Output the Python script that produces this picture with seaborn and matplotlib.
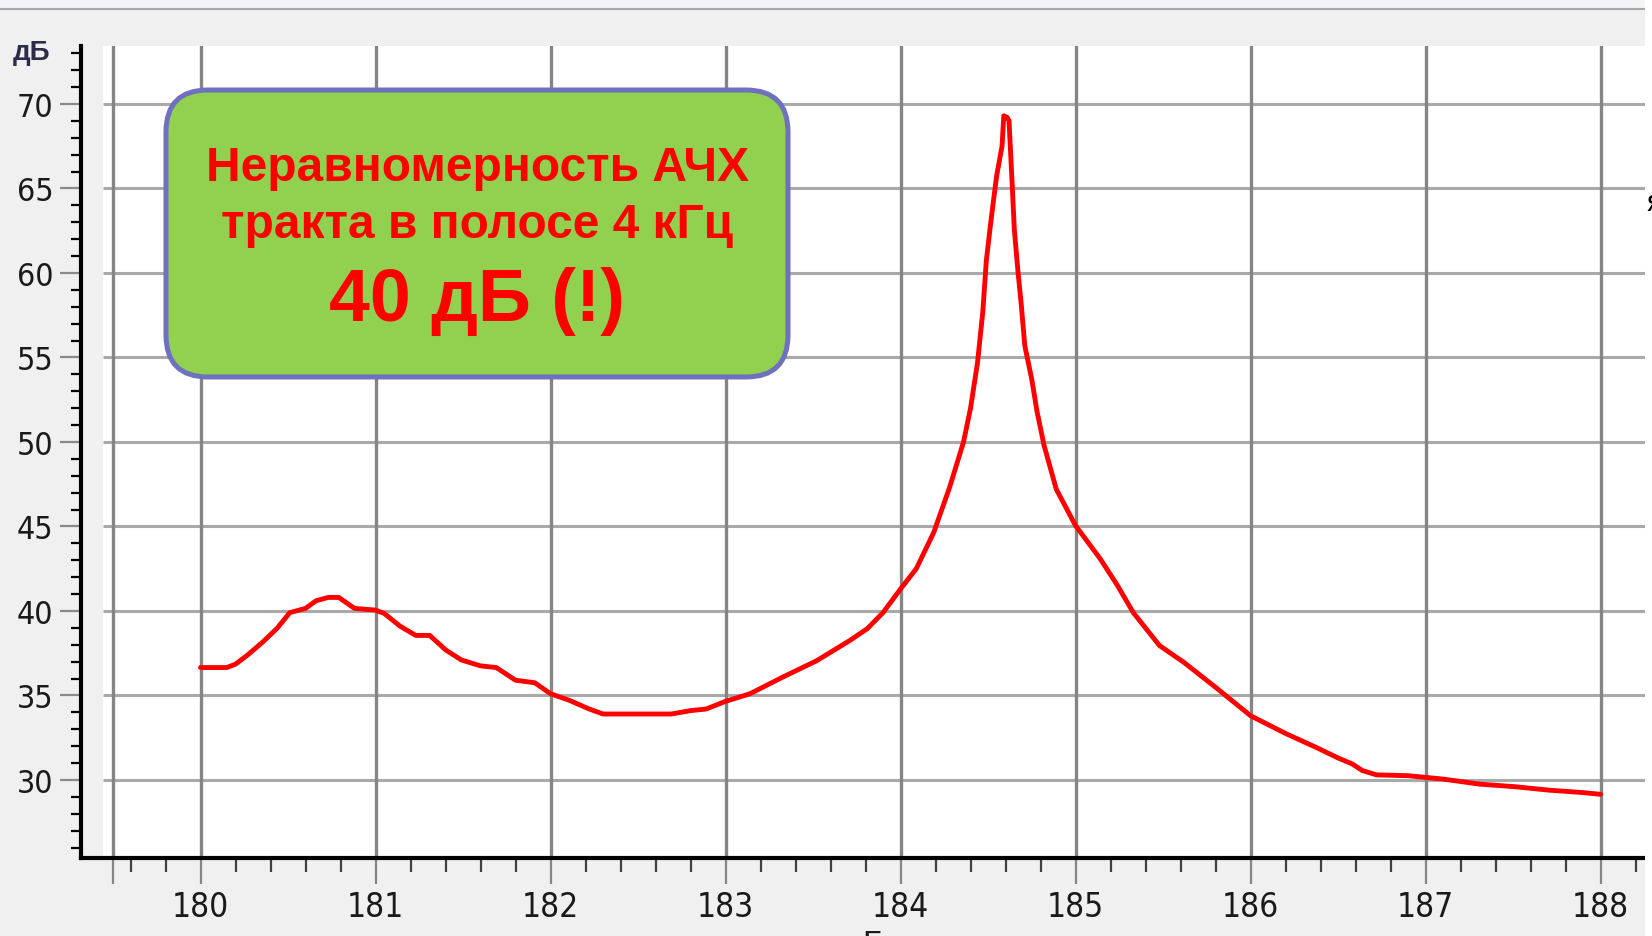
import numpy as np
import pandas as pd
import matplotlib
matplotlib.use("Agg")
import matplotlib.pyplot as plt
import seaborn as sns
from matplotlib import font_manager
from matplotlib.patches import FancyBboxPatch, Rectangle
from matplotlib.transforms import IdentityTransform
from matplotlib.lines import Line2D

# ---- data ----
freq_khz = [180.00, 180.15, 180.20, 180.27, 180.36, 180.44, 180.51, 180.60, 180.66, 180.73,
            180.79, 180.88, 181.00, 181.05, 181.14, 181.23, 181.31, 181.40, 181.49, 181.60,
            181.69, 181.80, 181.91, 182.00, 182.11, 182.22, 182.30, 182.50, 182.69, 182.80,
            182.89, 183.00, 183.14, 183.33, 183.52, 183.71, 183.81, 183.90, 184.00, 184.09,
            184.19, 184.28, 184.36, 184.40, 184.44, 184.47, 184.49, 184.51, 184.53, 184.55,
            184.58, 184.59, 184.61, 184.62, 184.63, 184.64, 184.65, 184.67, 184.69, 184.71,
            184.75, 184.78, 184.82, 184.89, 185.00, 185.14, 185.24, 185.33, 185.48, 185.62,
            185.81, 186.00, 186.20, 186.38, 186.50, 186.58, 186.64, 186.72, 186.90, 187.00,
            187.10, 187.31, 187.51, 187.70, 187.90, 188.00]
level_db = [36.65, 36.65, 36.85, 37.4, 38.2, 39.0, 39.9, 40.15, 40.6, 40.8,
            40.8, 40.15, 40.05, 39.85, 39.1, 38.55, 38.55, 37.7, 37.1, 36.75,
            36.65, 35.9, 35.75, 35.1, 34.7, 34.2, 33.9, 33.9, 33.9, 34.1,
            34.2, 34.65, 35.1, 36.1, 37.05, 38.25, 38.95, 39.9, 41.3, 42.5,
            44.65, 47.3, 50.0, 52.0, 54.7, 57.7, 60.7, 62.5, 64.2, 65.8,
            67.5, 69.3, 69.2, 69.0, 66.9, 64.8, 62.6, 60.2, 58.1, 55.7,
            53.7, 51.8, 49.8, 47.2, 45.05, 43.1, 41.5, 39.9, 37.95, 36.95,
            35.4, 33.8, 32.75, 31.9, 31.3, 30.95, 30.55, 30.3, 30.25, 30.15,
            30.05, 29.75, 29.6, 29.4, 29.25, 29.15]

x_major = [180, 181, 182, 183, 184, 185, 186, 187, 188]
x_labels = ["180", "181", "182", "183", "184", "185", "186", "187", "188"]
x_extra_grid = [179.5]
y_major = [30, 35, 40, 45, 50, 55, 60, 65, 70]
y_labels = ["30", "35", "40", "45", "50", "55", "60", "65", "70"]
y_unit = "дБ"
box_lines = ["Неравномерность АЧХ", "тракта в полосе 4 кГц", "40 дБ (!)"]

df = pd.DataFrame({"freq": freq_khz, "db": level_db})

sns.set_theme(style="white")

# choose a narrow font for the tick labels if one is installed
names = {(f.name, f.stretch) for f in font_manager.fontManager.ttflist}
tick_family, tick_stretch, xsize, ysize = ["Liberation Sans", "DejaVu Sans"], "normal", 24, 23
if any(n == "Liberation Sans Narrow" for n, _ in names):
    tick_family, tick_stretch, xsize, ysize = ["Liberation Sans Narrow", "DejaVu Sans"], "normal", 27, 25
elif ("DejaVu Sans", "condensed") in names or ("DejaVu Sans", "semi-condensed") in names:
    tick_family, tick_stretch, xsize, ysize = ["DejaVu Sans"], "condensed", 24, 23
plt.rcParams["font.family"] = tick_family
plt.rcParams["font.stretch"] = tick_stretch

W, H = 1652, 937
fig = plt.figure(figsize=(W / 100, H / 100), dpi=100, facecolor="#f0f0f0")
ax = fig.add_axes([81 / W, 1 - 859 / H, (1645 - 81) / W, (859 - 47) / H])
ax.set_facecolor("#f0f0f0")

XMIN, XMAX = 179.317, 188.254
YMIN, YMAX = 25.38, 73.43
ax.set_xlim(XMIN, XMAX)
ax.set_ylim(YMIN, YMAX)

# white plot area
ax.axvspan(179.443, XMAX, color="white", zorder=0, lw=0)

# grid
ax.hlines(y_major, 179.443, XMAX, color="#a9a9a9", lw=2.2, zorder=1)
for xv in x_extra_grid + x_major:
    ax.axvline(xv, color="#858585", lw=2.4, zorder=1.5)

sns.lineplot(data=df, x="freq", y="db", color="#ff0000", lw=3.5, ax=ax,
             zorder=3, sort=False)
ax.set_xlabel("")
ax.set_ylabel("")

# ticks
ax.set_xticks(x_extra_grid + x_major)
ax.set_xticklabels([""] + x_labels)
ax.set_xticks(np.round(np.arange(179.6, 188.3, 0.2), 2), minor=True)
ax.set_yticks(y_major)
ax.set_yticklabels(y_labels)
ax.set_yticks(np.arange(26, 74, 1), minor=True)

ax.tick_params(axis="x", which="major", direction="out", length=19, width=1.6,
               color="#858585", pad=4, labelsize=xsize, labelcolor="#1a1a1a")
ax.tick_params(axis="x", which="minor", direction="out", length=10, width=1.6,
               color="#404040")
ax.tick_params(axis="y", which="major", direction="out", length=15, width=1.6,
               color="#8a8a8a", pad=5, labelsize=ysize, labelcolor="#1a1a1a")
ax.tick_params(axis="y", which="minor", direction="out", length=7, width=1.6,
               color="black")
ax.tick_params(bottom=True, left=True, which="both")

for s in ["top", "right"]:
    ax.spines[s].set_visible(False)
for s in ["left", "bottom"]:
    ax.spines[s].set_color("black")
    ax.spines[s].set_linewidth(3.0)
    ax.spines[s].set_zorder(4)

# unit label
fig.text(32 / W, 1 - 53 / H, y_unit, ha="center", va="center", fontsize=20,
         fontweight="bold", color="#2c2c48", family=["Liberation Sans", "DejaVu Sans"],
         stretch="normal")

# top border strip
fig.add_artist(Rectangle((0, 1 - 10 / H), 1, 10 / H, transform=fig.transFigure,
                         color="#f4f4f8", lw=0, zorder=0))
fig.add_artist(Line2D([0, 1645 / W], [1 - 10 / H, 1 - 10 / H], transform=fig.transFigure,
                      color="#a8a8a8", lw=1.5))
# right white strip with text clipped by the screenshot edge (as in the reference)
fig.add_artist(Rectangle((1645 / W, 0), 7 / W, 1, transform=fig.transFigure,
                         color="white", lw=0, zorder=5))
fig.text(1645 / W, 1 - 203 / H, "я", ha="left", va="center", fontsize=20,
         color="black", family=["DejaVu Sans"], stretch="normal", zorder=6)
# axis caption clipped at the bottom edge (as in the reference)
fig.text(862 / W, -17 / H, "Гц", ha="left", va="baseline", fontsize=24,
         color="#1a1a1a", family=["Liberation Sans", "DejaVu Sans"], stretch="normal")

# annotation box
box = FancyBboxPatch((166, H - 378), 622, 287,
                     boxstyle="round,pad=0,rounding_size=42",
                     transform=IdentityTransform(), facecolor="#92d050",
                     edgecolor="#7070c0", lw=3.6, zorder=10)
fig.add_artist(box)
tfam = ["Liberation Sans", "DejaVu Sans"]
fig.text(477, H - 181, box_lines[0], transform=IdentityTransform(), ha="center",
         va="baseline", fontsize=34.5, fontweight="bold", color="#ff0000",
         family=tfam, stretch="normal", zorder=11)
fig.text(477, H - 238, box_lines[1], transform=IdentityTransform(), ha="center",
         va="baseline", fontsize=34.5, fontweight="bold", color="#ff0000",
         family=tfam, stretch="normal", zorder=11)
fig.text(477, H - 321, box_lines[2], transform=IdentityTransform(), ha="center",
         va="baseline", fontsize=53, fontweight="bold", color="#ff0000",
         family=tfam, stretch="normal", zorder=11)

fig.savefig("out.png", dpi=100, facecolor=fig.get_facecolor())
